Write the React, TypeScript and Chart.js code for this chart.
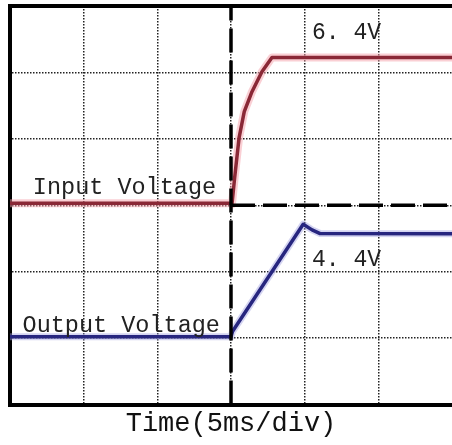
import React, { useEffect, useRef } from "react";
import { Chart, registerables } from "chart.js";

Chart.register(...registerables);

// Time axis in divisions (5 ms/div), voltage axis in divisions
const inputX = [0, 3.0, 3.013, 3.05, 3.11, 3.18, 3.285, 3.42, 3.556, 6];
const inputY = [3.03, 3.03, 3.015, 3.42, 4.02, 4.41, 4.71, 5.01, 5.225, 5.225];

const outputX = [0, 3.0, 3.02, 3.98, 4.1, 4.21, 6];
const outputY = [1.02, 1.02, 1.1, 2.715, 2.63, 2.575, 2.57];

const triggerX = [3, 3];
const triggerY = [0, 6];
const levelX = [3, 6];
const levelY = [3, 3];

const labelTexts = ["Input Voltage", "Output Voltage", "6. 4V", "4. 4V"];
const labelX = [0.31, 0.17, 4.1, 4.1];
const labelY = [3.165, 1.095, 5.5, 2.085];

const xTitle = "Time(5ms/div)";

const zip = (xs: number[], ys: number[]) => xs.map((x, i) => ({ x, y: ys[i] }));

export default function App() {
  const ref = useRef<HTMLCanvasElement | null>(null);
  useEffect(() => {
    if (!ref.current) return;
    const labelPlugin = {
      id: "labels",
      afterDatasetsDraw(chart: any) {
        const { ctx } = chart;
        const xs = chart.scales.x;
        const ys = chart.scales.y;
        ctx.save();
        ctx.fillStyle = "#222";
        ctx.textBaseline = "alphabetic";
        ctx.textAlign = "left";
        labelTexts.forEach((t, i) => {
          ctx.font = i < 2 ? "23.5px 'Liberation Mono'" : "23px 'Liberation Mono'";
          ctx.fillText(t, xs.getPixelForValue(labelX[i]), ys.getPixelForValue(labelY[i]));
        });
        ctx.restore();
      },
    };
    const edge = (c: any) =>
      c.tick && (c.tick.value <= 0 || c.tick.value >= 6) ? "rgba(0,0,0,0)" : "#222";
    const chart = new Chart(ref.current, {
      type: "line",
      data: {
        datasets: [
          { data: zip(triggerX, triggerY), borderColor: "#000", borderWidth: 3.5, borderDash: [24, 8], pointRadius: 0, order: 0 },
          { data: zip(levelX, levelY), borderColor: "#000", borderWidth: 3.5, borderDash: [24, 8], pointRadius: 0, order: 0 },
          { data: zip(inputX, inputY), borderColor: "#8a2836", borderWidth: 3.5, pointRadius: 0, order: 1 },
          { data: zip(inputX, inputY), borderColor: "rgba(245,160,170,0.5)", borderWidth: 8, pointRadius: 0, order: 2 },
          { data: zip(outputX, outputY), borderColor: "#27267f", borderWidth: 3.5, pointRadius: 0, order: 1 },
          { data: zip(outputX, outputY), borderColor: "rgba(160,160,225,0.45)", borderWidth: 7, pointRadius: 0, order: 2 },
        ] as any,
      },
      options: {
        animation: false,
        responsive: false,
        maintainAspectRatio: false,
        layout: { padding: { left: 10, right: 0, top: 6, bottom: 3 } },
        plugins: { legend: { display: false }, tooltip: { enabled: false } },
        elements: { line: { tension: 0, borderJoinStyle: "round", borderCapStyle: "butt" } },
        scales: {
          x: {
            type: "linear",
            min: 0,
            max: 6,
            ticks: { display: false, stepSize: 1 },
            grid: { drawTicks: false, color: edge, lineWidth: 1.5 },
            border: { display: true, width: 4, color: "#000", dash: [1.5, 1.5] },
            title: {
              display: true,
              text: xTitle,
              color: "#111",
              font: { family: "'Liberation Mono'", size: 27 },
              padding: { top: 3, bottom: 2 },
            },
          },
          x2: {
            type: "linear",
            position: "top",
            min: 0,
            max: 6,
            ticks: { display: false },
            grid: { display: false, drawTicks: false },
            border: { display: true, width: 4, color: "#000" },
          },
          y: {
            type: "linear",
            min: 0,
            max: 6,
            ticks: { display: false, stepSize: 1 },
            grid: { drawTicks: false, color: edge, lineWidth: 1.5 },
            border: { display: true, width: 4, color: "#000", dash: [1.5, 1.5] },
          },
        },
      } as any,
      plugins: [labelPlugin],
    });
    return () => chart.destroy();
  }, []);
  return (
    <div style={{ position: "absolute", left: 0, top: 0, width: 452, height: 445, background: "#fff" }}>
      <canvas ref={ref} width={452} height={445} style={{ display: "block", width: 452, height: 445 }} />
    </div>
  );
}
